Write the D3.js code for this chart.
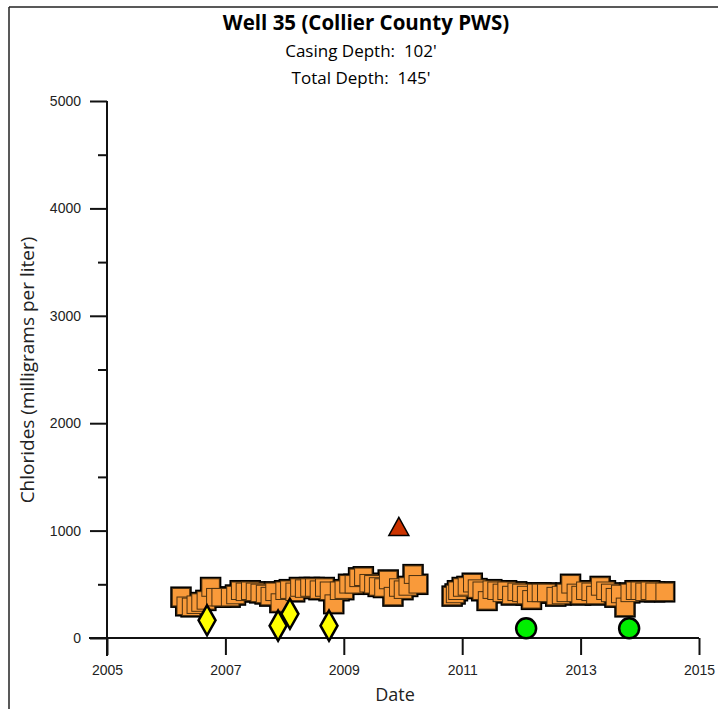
<!DOCTYPE html>
<html><head><meta charset="utf-8">
<script src="https://cdn.jsdelivr.net/npm/d3@7"></script>
<style>body{margin:0;background:#fff}svg{display:block}text{white-space:pre}</style>
</head><body>
<svg id="c" width="718" height="709"></svg>
<script>
const titleText = "Well 35 (Collier County PWS)";
const subtitles = ["Casing Depth:  102'", "Total Depth:  145'"];
const xTicks = [2005, 2007, 2009, 2011, 2013, 2015];
const yTicks = [0, 1000, 2000, 3000, 4000, 5000];
const yMinorTicks = [500, 1500, 2500, 3500, 4500];

// Orange squares: decimal year, chlorides mg/L
const sqDates = [2006.25,2006.33,2006.42,2006.50,2006.58,2006.67,2006.75,2006.83,2006.92,
  2007.08,2007.17,2007.25,2007.33,2007.42,2007.50,2007.58,2007.67,2007.75,2007.83,2007.92,
  2008.00,2008.08,2008.17,2008.25,2008.33,2008.42,2008.50,2008.58,2008.67,2008.75,2008.83,2008.92,
  2009.00,2009.08,2009.17,2009.25,2009.33,2009.42,2009.50,2009.58,2009.67,2009.75,2009.83,2009.92,
  2010.00,2010.08,2010.17,2010.25,
  2010.83,2010.88,2010.92,2011.00,2011.08,2011.17,2011.25,2011.33,2011.42,2011.50,2011.58,2011.67,
  2011.75,2011.83,2011.92,2012.00,2012.08,2012.17,2012.25,2012.33,2012.42,2012.58,2012.67,2012.75,
  2012.83,2012.92,2013.00,2013.08,2013.17,2013.25,2013.33,2013.42,2013.50,2013.58,2013.67,2013.75,
  2013.83,2013.92,2014.00,2014.08,2014.17,2014.25,2014.42];
const sqValues = [380,300,290,310,330,350,470,380,380,
  380,400,440,430,440,430,420,410,390,430,330,
  440,450,430,470,460,470,470,450,470,440,320,440,
  450,500,500,560,570,510,500,480,470,540,390,470,
  450,480,590,500,
  390,410,440,470,480,510,460,440,350,450,440,420,
  440,400,430,420,400,360,420,420,420,390,400,420,
  500,420,400,440,430,400,480,440,420,380,410,290,
  420,440,440,430,440,430,430];

// Yellow diamonds
const dmDates = [2006.69, 2007.89, 2008.09, 2008.75];
const dmValues = [165, 115, 225, 115];
// Red triangle
const trDates = [2009.93];
const trValues = [1030];
// Green circles
const ciDates = [2012.08, 2013.82];
const ciValues = [90, 90];

const svg = d3.select("#c");
const x = d3.scaleLinear().domain([2005, 2015]).range([107, 699]);
const y = d3.scaleLinear().domain([0, 5000]).range([638, 101]);

// frame lines (top, left)
svg.append("line").attr("x1",9).attr("y1",7).attr("x2",718).attr("y2",7).attr("stroke","#222").attr("stroke-width",1.5);
svg.append("line").attr("x1",9).attr("y1",7).attr("x2",9).attr("y2",709).attr("stroke","#222").attr("stroke-width",1.5);

// titles
svg.append("text").attr("x",366).attr("y",30).attr("text-anchor","middle")
  .style("font-family","Open Sans").style("font-weight","bold").style("font-size","20.5px").attr("fill","#000").text(titleText);
subtitles.forEach((s,i)=>{
  svg.append("text").attr("x",361).attr("y",57+i*27).attr("text-anchor","middle")
    .style("font-family","Open Sans").style("font-size","17px").attr("fill","#000").text(s);
});

// axes
const yAxis = d3.axisLeft(y).tickValues(yTicks).tickSize(17).tickPadding(9).tickFormat(d3.format("d"));
const gy = svg.append("g").attr("transform","translate(107,0)").call(yAxis);
gy.select(".domain").remove();
gy.selectAll("line").attr("stroke","#111").attr("stroke-width",2);
gy.selectAll("text").style("font-family","Liberation Sans").style("font-size","14px").attr("fill","#222");
const yMinor = d3.axisLeft(y).tickValues(yMinorTicks).tickSize(9).tickFormat("");
const gym = svg.append("g").attr("transform","translate(107,0)").call(yMinor);
gym.select(".domain").remove();
gym.selectAll("line").attr("stroke","#111").attr("stroke-width",2);
svg.append("line").attr("x1",107).attr("x2",107).attr("y1",y(5000)).attr("y2",656).attr("stroke","#111").attr("stroke-width",2);

const xAxis = d3.axisBottom(x).tickValues(xTicks).tickSize(17).tickPadding(10).tickFormat(d3.format("d"));
const gx = svg.append("g").attr("transform","translate(0,638)").call(xAxis);
gx.select(".domain").remove();
gx.selectAll("line").attr("stroke","#111").attr("stroke-width",2);
gx.selectAll("text").style("font-family","Liberation Sans").style("font-size","14px").attr("fill","#222");
svg.append("line").attr("x1",89).attr("x2",699).attr("y1",638).attr("y2",638).attr("stroke","#111").attr("stroke-width",2);

// axis titles
svg.append("text").attr("x",395).attr("y",701).attr("text-anchor","middle")
  .style("font-family","Open Sans").style("font-size","18px").attr("fill","#222").text("Date");
svg.append("text").attr("transform","translate(34,370) rotate(-90)").attr("text-anchor","middle")
  .style("font-family","Open Sans").style("font-size","19px").attr("fill","#222").text("Chlorides (milligrams per liter)");

// squares
const sq = sqDates.map((d,i)=>({d, v: sqValues[i]}));
const S = 17.5;
svg.append("g").selectAll("rect").data(sq).join("rect")
  .attr("x",p=>x(p.d)-S/2).attr("y",p=>y(p.v)-S/2).attr("width",S).attr("height",S)
  .attr("fill","#000").attr("stroke","#000").attr("stroke-width",4).attr("stroke-linejoin","miter");
svg.append("g").selectAll("rect").data(sq).join("rect")
  .attr("x",p=>x(p.d)-S/2).attr("y",p=>y(p.v)-S/2).attr("width",S).attr("height",S)
  .attr("fill","#F99A3A").attr("stroke","#4a3010").attr("stroke-width",1);

// triangle
const tri = trDates.map((d,i)=>({d, v: trValues[i]}));
svg.append("g").selectAll("path").data(tri).join("path")
  .attr("d",p=>{const cx=x(p.d), cy=y(p.v); return `M${cx},${cy-10}L${cx+10},${cy+8}L${cx-10},${cy+8}Z`;})
  .attr("fill","#CC3300").attr("stroke","#000").attr("stroke-width",1.5);

// diamonds
const dm = dmDates.map((d,i)=>({d, v: dmValues[i]}));
svg.append("g").selectAll("path").data(dm).join("path")
  .attr("d",p=>{const cx=x(p.d), cy=y(p.v); return `M${cx},${cy-15}L${cx+8.5},${cy}L${cx},${cy+15}L${cx-8.5},${cy}Z`;})
  .attr("fill","#FFFF00").attr("stroke","#000").attr("stroke-width",2.5).attr("stroke-linejoin","miter");

// circles
const ci = ciDates.map((d,i)=>({d, v: ciValues[i]}));
svg.append("g").selectAll("circle").data(ci).join("circle")
  .attr("cx",p=>x(p.d)).attr("cy",p=>y(p.v)).attr("r",10)
  .attr("fill","#00EE00").attr("stroke","#000").attr("stroke-width",2.5);
</script>
</body></html>
